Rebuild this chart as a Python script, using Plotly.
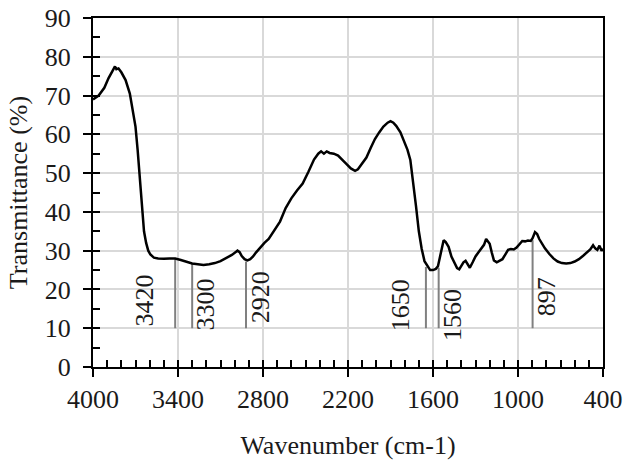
import plotly.graph_objects as go

# ---------------- data ----------------
wavenumber = [4000, 3960, 3920, 3890, 3860, 3845, 3835, 3820, 3800, 3770, 3740, 3720,
              3700, 3685, 3670, 3655, 3640, 3625, 3610, 3595, 3570, 3540, 3500, 3460,
              3420, 3380, 3340, 3300, 3260, 3220, 3180, 3140, 3100, 3060, 3020, 2990,
              2980, 2965, 2950, 2930, 2910, 2890, 2870, 2850, 2820, 2790, 2760, 2720,
              2680, 2640, 2600, 2560, 2520, 2480, 2440, 2410, 2390, 2370, 2350, 2330,
              2300, 2270, 2240, 2210, 2180, 2150, 2130, 2100, 2070, 2040, 2010, 1980,
              1950, 1920, 1900, 1880, 1860, 1830, 1800, 1780, 1760, 1740, 1720, 1700,
              1680, 1660, 1640, 1620, 1600, 1580, 1565, 1550, 1535, 1525, 1510, 1490,
              1470, 1450, 1430, 1415, 1400, 1385, 1370, 1355, 1340, 1320, 1300, 1280,
              1260, 1240, 1225, 1215, 1200, 1185, 1170, 1150, 1130, 1110, 1090, 1070,
              1050, 1030, 1010, 990, 970, 950, 930, 910, 897, 880, 865, 850, 830, 810,
              780, 750, 720, 690, 660, 630, 600, 570, 540, 510, 490, 470, 455, 440,
              425, 410, 400]
transmittance = [69.0, 70.0, 72.0, 74.5, 76.5, 77.5, 76.8, 77.0, 76.0, 74.0, 70.5, 66.5,
                 62.0, 56.0, 49.0, 40.0, 35.0, 32.0, 30.0, 29.0, 28.2, 28.0, 27.9, 28.0,
                 28.0, 27.6, 27.1, 26.7, 26.5, 26.3, 26.5, 26.8, 27.3, 28.0, 28.9, 29.7,
                 30.0, 29.6, 28.6, 27.8, 27.5, 27.8, 28.5, 29.5, 30.8, 32.0, 33.0, 35.3,
                 37.5, 41.0, 43.5, 45.5, 47.3, 50.3, 53.5, 55.0, 55.6, 55.0, 55.6, 55.2,
                 55.0, 54.5, 53.5, 52.3, 51.2, 50.6, 51.0, 52.5, 54.0, 56.5, 58.8, 60.5,
                 62.0, 63.0, 63.4, 63.0, 62.2, 60.5, 58.0, 56.0, 53.4, 48.0, 41.5, 35.0,
                 30.5, 27.3, 26.0, 25.0, 25.0, 25.3, 26.0, 28.5, 31.5, 32.7, 32.2, 31.0,
                 28.5, 27.0, 25.5, 25.2, 26.0, 27.0, 27.4, 26.5, 25.6, 27.0, 28.5, 29.5,
                 30.5, 31.5, 33.0, 32.5, 31.8, 29.5, 27.5, 27.0, 27.3, 27.8, 29.0, 30.2,
                 30.4, 30.3, 30.8, 31.8, 32.5, 32.4, 32.6, 32.5, 33.2, 34.8, 34.3, 33.0,
                 31.8, 30.6, 29.2, 28.0, 27.2, 26.8, 26.7, 26.8, 27.2, 27.8, 28.7, 29.6,
                 30.3, 31.4, 30.6, 30.2, 31.3, 30.0, 30.5]

peak_positions = [3420, 3300, 2920, 1650, 1560, 897]
peak_labels = ["3420", "3300", "2920", "1650", "1560", "897"]
peak_tops = [27.9, 26.6, 27.2, 25.8, 25.6, 32.7]
peak_base = 10

x_tick_vals = [4000, 3400, 2800, 2200, 1600, 1000, 400]
x_tick_text = ["4000", "3400", "2800", "2200", "1600", "1000", "400"]

# ---------------- styling ----------------
FONT = "Liberation Serif, Times New Roman, serif"
TXT = "#1a1a1a"
GRID = "#d9d9d9"
# label offsets (pixels) relative to each peak line: (xshift, yshift)
label_offsets = [(-31, 0), (13, -4), (14, 3), (-26, -5), (14, -15), (14, 10)]

fig = go.Figure()

for p, top in zip(peak_positions, peak_tops):
    fig.add_trace(go.Scatter(x=[p, p], y=[peak_base, top], mode="lines",
                             line=dict(color="#808080", width=2),
                             hoverinfo="skip", showlegend=False))

fig.add_trace(go.Scatter(x=wavenumber, y=transmittance, mode="lines",
                         line=dict(color="black", width=2.5),
                         showlegend=False))

# invisible trace on overlay axes (for inside / crossing ticks)
fig.add_trace(go.Scatter(x=[wavenumber[0]], y=[transmittance[0]], xaxis="x2", yaxis="y2",
                         mode="markers", marker=dict(opacity=0), hoverinfo="skip",
                         showlegend=False))

for p, lab, (dx, dy) in zip(peak_positions, peak_labels, label_offsets):
    fig.add_annotation(x=p, y=peak_base, text=lab, textangle=-90, showarrow=False,
                       xanchor="center", yanchor="bottom", xshift=dx, yshift=dy,
                       font=dict(family=FONT, size=26, color=TXT))

fig.update_layout(
    width=623, height=461,
    margin=dict(l=93, r=20, t=18, b=94, autoexpand=False),
    plot_bgcolor="white", paper_bgcolor="white",
    font=dict(family=FONT, size=26, color=TXT),
    xaxis=dict(range=[4000, 400], tickvals=x_tick_vals, ticktext=x_tick_text,
               automargin=False, ticklabeloverflow="allow",
               showgrid=True, gridcolor=GRID, gridwidth=1.5,
               showline=True, linecolor="black", linewidth=2, mirror=True,
               ticks="outside", ticklen=8, tickwidth=2, tickcolor="black",
               zeroline=False,
               title=dict(text="Wavenumber (cm-1)", font=dict(size=26), standoff=23),
               tickfont=dict(size=26)),
    yaxis=dict(range=[0, 90], dtick=10, tick0=0, automargin=False,
               ticklabeloverflow="allow", ticklabelstandoff=7,
               showgrid=True, gridcolor=GRID, gridwidth=1.5,
               showline=True, linecolor="black", linewidth=2, mirror=True,
               ticks="outside", ticklen=8, tickwidth=2, tickcolor="black",
               zeroline=False,
               title=dict(text="Transmittance (%)", font=dict(size=26), standoff=10),
               tickfont=dict(size=26)),
    xaxis2=dict(range=[4000, 400], overlaying="x", anchor="y", side="bottom",
                automargin=False,
                showticklabels=False, showgrid=False, showline=False, zeroline=False,
                tickvals=x_tick_vals, ticks="inside", ticklen=7, tickwidth=2,
                tickcolor="black",
                minor=dict(ticks="inside", dtick=100, tick0=400, ticklen=7,
                           tickwidth=1.5, tickcolor="black", showgrid=False)),
    yaxis2=dict(range=[0, 90], overlaying="y", anchor="x", side="left",
                automargin=False,
                showticklabels=False, showgrid=False, showline=False, zeroline=False,
                dtick=10, tick0=0, ticks="inside", ticklen=7, tickwidth=2,
                tickcolor="black",
                minor=dict(ticks="inside", dtick=5, tick0=0, ticklen=7,
                           tickwidth=1.5, tickcolor="black", showgrid=False)),
)

# remove the default 8px page margin so the figure fills the window exactly
fig.write_html("out.html", config={"displayModeBar": False},
               post_script="document.body.style.margin='0';document.body.style.overflow='hidden';")
